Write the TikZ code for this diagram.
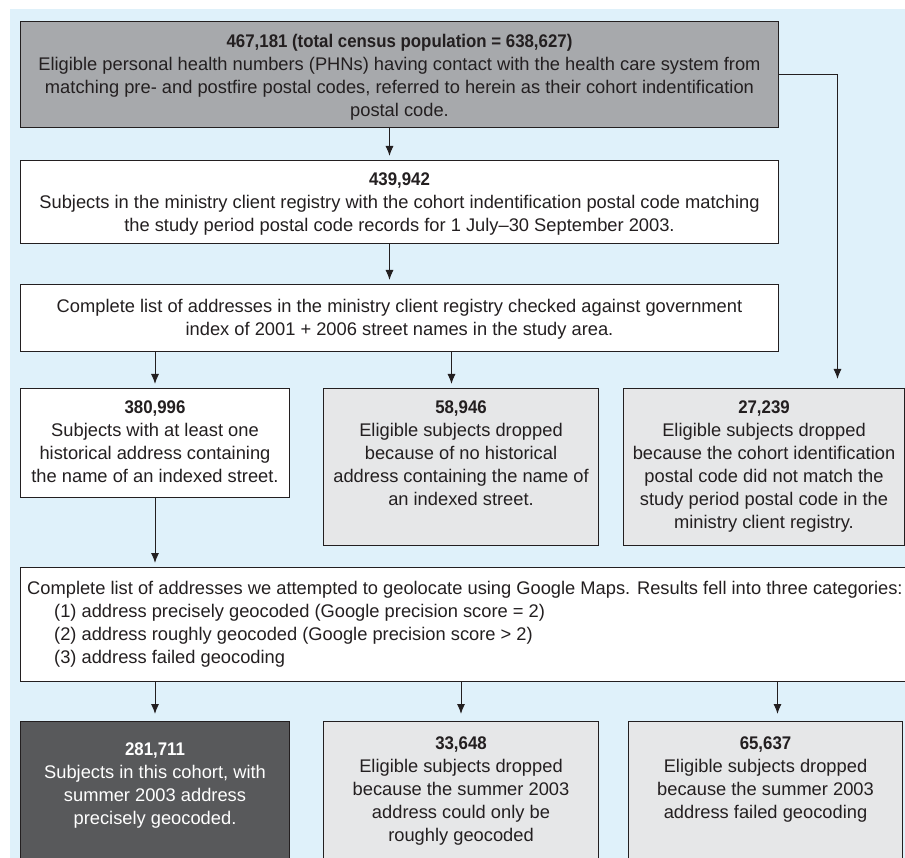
\documentclass[tikz,border=0pt]{standalone}
\usepackage{fontspec}
\setmainfont{Liberation Sans}[BoldFeatures={FakeStretch=0.92}]
\usepackage{tikz}
\usetikzlibrary{arrows.meta}
\usetikzlibrary{positioning}
\usetikzlibrary{calc}
\definecolor{fundo}{RGB}{223,241,250}
\definecolor{cinza}{RGB}{167,169,172}
\definecolor{claro}{RGB}{230,231,232}
\definecolor{escuro}{RGB}{88,89,91}
\definecolor{tinta}{RGB}{35,31,32}
\tikzstyle{flow}=[-{Latex[length=10pt,width=8pt]},line width=1pt,color=tinta,shorten >=4pt]

\begin{document}
\begin{tikzpicture}[x=1pt,y=-1pt]
    % caixas e textos
    \tikzstyle{box}=[draw=tinta,line width=1pt,rectangle,anchor=north west,inner sep=0pt]
    \tikzstyle{txt}=[align=center,inner sep=0pt,text=tinta,font=\fontsize{18.3}{23}\selectfont]

    \useasboundingbox (0,0) rectangle (905,858);
    \clip (0,0) rectangle (905,858);
    \fill[fundo] (10,9) rectangle (905,858);

    \node[box,fill=cinza,minimum width=758,minimum height=106] (total) at (20,21) {};
    \node[box,fill=white,minimum width=758,minimum height=83] (reg) at (20,160) {};
    \node[box,fill=white,minimum width=758,minimum height=67] (check) at (20,284) {};
    \node[box,fill=white,minimum width=269,minimum height=109] (kept) at (20,388) {};
    \node[box,fill=claro,minimum width=275,minimum height=157] (nostreet) at (323,388) {};
    \node[box,fill=claro,minimum width=281,minimum height=157] (nomatch) at (623,388) {};
    \node[box,fill=white,minimum width=900,minimum height=114] (geo) at (20,567) {};
    \node[box,fill=escuro,minimum width=269,minimum height=160] (precise) at (20,721) {};
    \node[box,fill=claro,minimum width=275,minimum height=160] (rough) at (323,721) {};
    \node[box,fill=claro,minimum width=274,minimum height=160] (failed) at (628,721) {};

    \node[txt,below=13pt of total.north] (ttotal) {\textbf{467,181 (total census population = 638,627)}\\Eligible personal health numbers (PHNs) having contact with the health care system from\\matching pre- and postfire postal codes, referred to herein as their cohort indentification\\postal code.};
    \node[txt,below=13pt of reg.north] (treg) {\textbf{439,942}\\Subjects in the ministry client registry with the cohort indentification postal code matching\\the study period postal code records for 1 July--30 September 2003.};
    \node[txt,below=15pt of check.north] (tcheck) {Complete list of addresses in the ministry client registry checked against government\\index of 2001 + 2006 street names in the study area.};
    \node[txt,below=13pt of kept.north] (tkept) {\textbf{380,996}\\Subjects with at least one\\historical address containing\\the name of an indexed street.};
    \node[txt,below=13pt of nostreet.north] (tnostreet) {\textbf{58,946}\\Eligible subjects dropped\\because of no historical\\address containing the name of\\an indexed street.};
    \node[txt,below=13pt of nomatch.north] (tnomatch) {\textbf{27,239}\\Eligible subjects dropped\\because the cohort identification\\postal code did not match the\\study period postal code in the\\ministry client registry.};
    \node[txt,align=left,below right=14pt and 7pt of geo.north west] (tgeo) {Complete list of addresses we attempted to geolocate using Google Maps. Results fell into three categories:\\\hspace{27pt}(1) address precisely geocoded (Google precision score = 2)\\\hspace{27pt}(2) address roughly geocoded (Google precision score > 2)\\\hspace{27pt}(3) address failed geocoding};
    \node[txt,text=white,below=22pt of precise.north] (tprecise) {\textbf{281,711}\\Subjects in this cohort, with\\summer 2003 address\\precisely geocoded.};
    \node[txt,below=16pt of rough.north] (trough) {\textbf{33,648}\\Eligible subjects dropped\\because the summer 2003\\address could only be\\roughly geocoded};
    \node[txt,below=16pt of failed.north] (tfailed) {\textbf{65,637}\\Eligible subjects dropped\\because the summer 2003\\address failed geocoding};

    % setas
    \draw[flow] ([xshift=-10pt]total.south) -- ([xshift=-10pt]reg.north);
    \draw[flow] ([xshift=-10pt]reg.south) -- ([xshift=-10pt]check.north);
    \draw[flow] (total.east) -| ([xshift=73.5pt]nomatch.north) [shorten >=9pt];
    \draw[flow] (kept.north |- check.south) -- (kept.north);
    \draw[flow] ([xshift=-9.5pt]nostreet.north |- check.south) -- ([xshift=-9.5pt]nostreet.north);
    \draw[flow] (kept.south) -- (kept.south |- geo.north);
    \draw[flow,shorten >=7pt] (precise.north |- geo.south) -- (precise.north);
    \draw[flow,shorten >=7pt] (rough.north |- geo.south) -- (rough.north);
    \draw[flow,shorten >=7pt] ([xshift=12pt]failed.north |- geo.south) -- ([xshift=12pt]failed.north);
\end{tikzpicture}
\end{document}
